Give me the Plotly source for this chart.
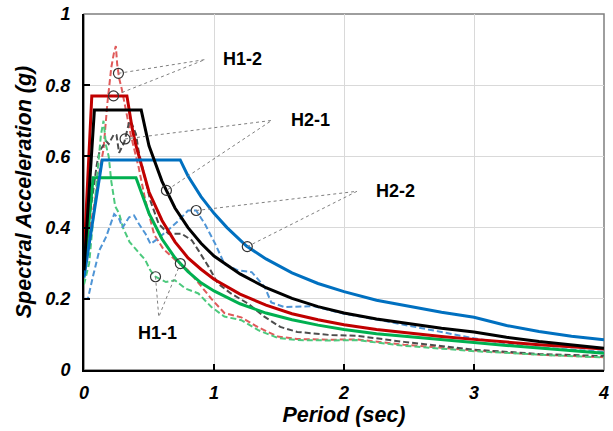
import numpy as np
import plotly.graph_objects as go

# ---------------- data ----------------
# solid (mean / target) spectra
t_h12 = [0, 0.06, 0.33, 0.37, 0.4, 0.5, 0.6, 0.7, 0.8, 0.9, 1.0, 1.2, 1.4, 1.6, 1.8, 2.0, 2.25, 2.5, 2.75, 3.0, 3.25, 3.5, 3.75, 4.0]
sa_h12 = [0.32, 0.77, 0.77, 0.68, 0.63, 0.50, 0.42, 0.36, 0.315, 0.283, 0.255, 0.213, 0.182, 0.158, 0.141, 0.127, 0.114, 0.103, 0.094, 0.086, 0.078, 0.071, 0.065, 0.059]

t_h21 = [0, 0.08, 0.44, 0.5, 0.6, 0.7, 0.8, 0.9, 1.0, 1.2, 1.4, 1.6, 1.8, 2.0, 2.25, 2.5, 2.75, 3.0, 3.25, 3.5, 3.75, 4.0]
sa_h21 = [0.28, 0.73, 0.73, 0.63, 0.53, 0.455, 0.40, 0.356, 0.32, 0.27, 0.231, 0.201, 0.178, 0.16, 0.143, 0.129, 0.117, 0.107, 0.092, 0.08, 0.07, 0.061]

t_h22 = [0, 0.14, 0.74, 0.8, 0.9, 1.0, 1.1, 1.25, 1.4, 1.6, 1.8, 2.0, 2.25, 2.5, 2.75, 3.0, 3.25, 3.5, 3.75, 4.0]
sa_h22 = [0.26, 0.59, 0.59, 0.545, 0.487, 0.44, 0.40, 0.348, 0.312, 0.273, 0.243, 0.22, 0.196, 0.178, 0.162, 0.148, 0.125, 0.108, 0.095, 0.085]

t_h11 = [0, 0.07, 0.40, 0.5, 0.6, 0.7, 0.8, 0.9, 1.0, 1.2, 1.4, 1.6, 1.8, 2.0, 2.25, 2.5, 2.75, 3.0, 3.25, 3.5, 3.75, 4.0]
sa_h11 = [0.27, 0.54, 0.54, 0.44, 0.368, 0.315, 0.276, 0.245, 0.222, 0.186, 0.16, 0.141, 0.126, 0.114, 0.102, 0.093, 0.085, 0.077, 0.069, 0.061, 0.054, 0.047]

# dashed (individual record) spectra
t_r12 = [0, 0.03, 0.06, 0.09, 0.12, 0.15, 0.18, 0.21, 0.23, 0.245, 0.255, 0.27, 0.29, 0.31, 0.36, 0.42, 0.47, 0.54, 0.61, 0.70, 0.80, 0.88, 0.98, 1.08, 1.21, 1.34, 1.49, 1.64, 1.9, 2.1, 2.46, 3.0, 3.5, 4.0]
sa_r12 = [0.30, 0.36, 0.43, 0.49, 0.56, 0.62, 0.75, 0.85, 0.89, 0.91, 0.86, 0.82, 0.79, 0.75, 0.66, 0.57, 0.48, 0.38, 0.34, 0.31, 0.28, 0.245, 0.20, 0.16, 0.148, 0.12, 0.094, 0.087, 0.085, 0.086, 0.071, 0.055, 0.043, 0.036]

t_r21 = [0, 0.05, 0.1, 0.12, 0.17, 0.19, 0.23, 0.25, 0.27, 0.31, 0.35, 0.37, 0.40, 0.42, 0.47, 0.51, 0.575, 0.65, 0.75, 0.83, 0.88, 0.96, 1.03, 1.13, 1.26, 1.39, 1.51, 1.64, 1.9, 2.1, 2.46, 3.0, 3.5, 4.0]
sa_r21 = [0.32, 0.45, 0.58, 0.615, 0.643, 0.635, 0.662, 0.66, 0.61, 0.64, 0.70, 0.69, 0.662, 0.615, 0.54, 0.476, 0.41, 0.383, 0.383, 0.364, 0.336, 0.289, 0.243, 0.215, 0.187, 0.149, 0.121, 0.107, 0.098, 0.096, 0.079, 0.057, 0.045, 0.039]

t_r22 = [0, 0.03, 0.067, 0.118, 0.169, 0.232, 0.27, 0.296, 0.347, 0.385, 0.423, 0.474, 0.512, 0.55, 0.627, 0.728, 0.80, 0.863, 0.93, 1.01, 1.08, 1.185, 1.29, 1.39, 1.44, 1.54, 1.77, 2.0, 2.28, 2.66, 3.0, 3.42, 4.0]
sa_r22 = [0.20, 0.20, 0.26, 0.336, 0.373, 0.438, 0.425, 0.40, 0.429, 0.434, 0.41, 0.382, 0.354, 0.364, 0.387, 0.42, 0.448, 0.448, 0.41, 0.354, 0.298, 0.28, 0.275, 0.233, 0.19, 0.177, 0.179, 0.158, 0.14, 0.112, 0.089, 0.065, 0.051]

t_r11 = [0, 0.04, 0.07, 0.10, 0.13, 0.15, 0.17, 0.19, 0.21, 0.24, 0.27, 0.30, 0.35, 0.42, 0.47, 0.51, 0.55, 0.63, 0.70, 0.78, 0.88, 0.98, 1.08, 1.21, 1.34, 1.49, 1.64, 1.9, 2.1, 2.46, 3.0, 3.5, 4.0]
sa_r11 = [0.24, 0.30, 0.42, 0.55, 0.66, 0.70, 0.63, 0.60, 0.53, 0.46, 0.44, 0.40, 0.36, 0.33, 0.31, 0.28, 0.262, 0.247, 0.252, 0.229, 0.215, 0.177, 0.15, 0.14, 0.112, 0.09, 0.084, 0.083, 0.084, 0.068, 0.053, 0.043, 0.035]

x_ticks = [0, 1, 2, 3, 4]
y_ticks = [0, 0.2, 0.4, 0.6, 0.8, 1.0]
y_tick_text = ["0", "0.2", "0.4", "0.6", "0.8", "1"]

# labels: name, text-anchor (x,y), leader origin (x,y), period of circle on dashed, on solid
labels = ["H1-2", "H2-1", "H2-2", "H1-1"]
label_x = [1.056, 1.579, 2.227, 0.5625]
label_y = [0.873, 0.702, 0.5015, 0.105]
leader_x = [0.931, 1.444, 2.10, 0.575]
leader_y = [0.872, 0.701, 0.502, 0.149]
circle_t_dashed = [0.265, 0.316, 0.863, 0.55]
circle_t_solid = [0.227, 0.634, 1.256, 0.741]

# ---------------- figure ----------------
fig = go.Figure()

dashed = [(t_r12, sa_r12, "#e05a5a"), (t_r21, sa_r21, "#4d4d4d"),
          (t_r11, sa_r11, "#4cc97d"), (t_r22, sa_r22, "#4f95d6")]
solid = [(t_h11, sa_h11, "#00b050"), (t_h12, sa_h12, "#c00000"),
         (t_h22, sa_h22, "#0070c0"), (t_h21, sa_h21, "#000000")]

for t, s, c in dashed:
    fig.add_trace(go.Scatter(x=t, y=s, mode="lines",
                             line=dict(color=c, width=2, dash="6px,3px"),
                             showlegend=False, hoverinfo="skip"))
for t, s, c in solid:
    fig.add_trace(go.Scatter(x=t, y=s, mode="lines",
                             line=dict(color=c, width=3),
                             showlegend=False, hoverinfo="skip"))

pairs = {
    "H1-2": ((t_r12, sa_r12), (t_h12, sa_h12)),
    "H2-1": ((t_r21, sa_r21), (t_h21, sa_h21)),
    "H2-2": ((t_r22, sa_r22), (t_h22, sa_h22)),
    "H1-1": ((t_r11, sa_r11), (t_h11, sa_h11)),
}

for i, name in enumerate(labels):
    (td, sd), (ts, ss) = pairs[name]
    cx = [circle_t_dashed[i], circle_t_solid[i]]
    cy = [float(np.interp(cx[0], td, sd)), float(np.interp(cx[1], ts, ss))]
    # leader lines
    fig.add_trace(go.Scatter(x=[cx[0], leader_x[i], cx[1]],
                             y=[cy[0], leader_y[i], cy[1]],
                             mode="lines", line=dict(color="#7f7f7f", width=1, dash="dot"),
                             showlegend=False, hoverinfo="skip"))
    fig.add_trace(go.Scatter(x=cx, y=cy, mode="markers",
                             marker=dict(symbol="circle-open", size=10,
                                         color="#333333", line=dict(width=1.2)),
                             showlegend=False, hoverinfo="skip"))
    fig.add_annotation(x=label_x[i], y=label_y[i], text=name, showarrow=False,
                       xanchor="center" if name == "H1-1" else "left",
                       yanchor="middle",
                       font=dict(family="Liberation Sans, Arial", size=18,
                                 color="black", weight="bold"))

tick_font = dict(family="Liberation Sans, Arial", size=18, color="black",
                 weight="bold", style="italic")
title_font = dict(family="Liberation Sans, Arial", size=21.5, color="black",
                  weight="bold", style="italic")

fig.update_xaxes(range=[0, 4], tickvals=x_ticks, ticktext=[str(v) for v in x_ticks],
                 showgrid=True, gridcolor="#d9d9d9", gridwidth=1,
                 zeroline=False, showline=True, linecolor="black", linewidth=2,
                 ticks="inside", ticklen=6, tickwidth=1.5, tickcolor="black",
                 tickfont=tick_font, ticklabelstandoff=5, ticklabeloverflow="allow",
                 title=dict(text="Period (sec)", font=title_font, standoff=4))
fig.update_yaxes(range=[0, 1], tickvals=y_ticks, ticktext=y_tick_text,
                 showgrid=True, gridcolor="#d9d9d9", gridwidth=1,
                 zeroline=False, showline=True, linecolor="black", linewidth=2,
                 ticks="inside", ticklen=6, tickwidth=1.5, tickcolor="black",
                 tickfont=tick_font, ticklabelstandoff=8, ticklabeloverflow="allow",
                 title=dict(text="Spectral Acceleration (g)", font=title_font, standoff=8))

fig.add_shape(type="rect", xref="paper", yref="paper", x0=0, y0=0, x1=1, y1=1,
              line=dict(color="#7f7f7f", width=1.5), layer="below")

fig.update_layout(width=613, height=431, margin=dict(l=84, r=4, t=13, b=61),
                  paper_bgcolor="white", plot_bgcolor="white")

fig.write_html("out.html", config={"displayModeBar": False},
               post_script="document.body.style.margin='0';document.body.style.overflow='hidden';")
